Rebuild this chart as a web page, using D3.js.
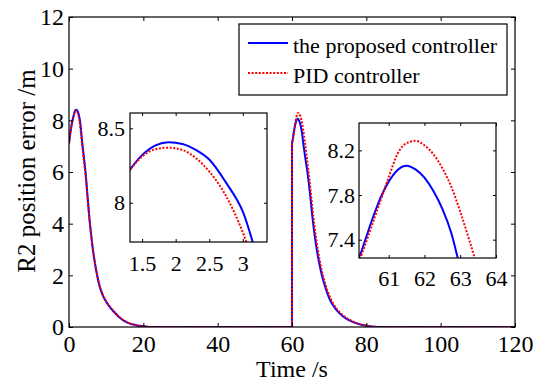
<!DOCTYPE html>
<html>
<head>
<meta charset="utf-8">
<script src="https://d3js.org/d3.v7.min.js"></script>
<style>
  html, body { margin: 0; padding: 0; background: #fff; }
  svg { display: block; }
</style>
</head>
<body>
<svg id="chart" width="536" height="385"></svg>
<script>
// Simulation time (s) and R2 position error (m) for both controllers
const time = [0, 0.4, 0.8, 1.2, 1.5, 1.7, 1.9, 2.1, 2.3, 2.5, 2.75, 3, 3.25, 3.5, 4, 4.5, 5, 5.5, 6, 6.5,
  7, 7.5, 8, 9, 10, 11, 12, 14, 16, 18, 20, 22, 30, 40, 50, 59.99, 60, 60.25, 60.5, 60.75,
  61, 61.25, 61.5, 61.75, 62, 62.25, 62.5, 62.75, 63, 63.25, 63.5, 64, 64.5, 65, 65.5, 66, 66.5, 67, 67.5, 68,
  69, 70, 71, 72, 74, 76, 78, 80, 82, 84, 90, 100, 110, 120];

const proposed = [7.10, 7.55, 7.90, 8.15, 8.32, 8.385, 8.406, 8.395, 8.355, 8.29, 8.135, 7.94, 7.58, 7.22, 6.58, 5.92, 5.05, 4.20, 3.52, 2.92,
  2.45, 2.05, 1.70, 1.25, 0.98, 0.77, 0.60, 0.32, 0.15, 0.07, 0.03, 0, 0, 0, 0, 0, 7.07, 7.305, 7.545, 7.758,
  7.92, 8.025, 8.063, 8.03, 7.955, 7.835, 7.675, 7.46, 7.15, 6.88, 6.62, 6.15, 5.60, 4.95, 4.25, 3.65, 3.15, 2.72, 2.35, 2.02,
  1.52, 1.12, 0.85, 0.65, 0.38, 0.22, 0.11, 0.05, 0.01, 0, 0, 0, 0, 0];

const pid = [7.10, 7.55, 7.90, 8.15, 8.31, 8.36, 8.37, 8.355, 8.30, 8.21, 8.045, 7.80, 7.47, 7.10, 6.45, 5.80, 4.98, 4.16, 3.50, 2.92,
  2.46, 2.07, 1.73, 1.28, 1.00, 0.79, 0.62, 0.33, 0.16, 0.08, 0.03, 0, 0, 0, 0, 0, 7.05, 7.27, 7.50, 7.73,
  7.96, 8.17, 8.265, 8.285, 8.245, 8.165, 8.04, 7.875, 7.65, 7.40, 7.13, 6.55, 5.95, 5.30, 4.60, 3.95, 3.42, 2.95, 2.55, 2.20,
  1.65, 1.23, 0.93, 0.71, 0.42, 0.24, 0.12, 0.06, 0.015, 0, 0, 0, 0, 0];

const seriesNames = ["the proposed controller", "PID controller"];

// Axis ticks and limits
const mainXTicks = [0, 20, 40, 60, 80, 100, 120];
const mainYTicks = [0, 2, 4, 6, 8, 10, 12];
const zoom1XTicks = [1.5, 2, 2.5, 3];
const zoom1YTicks = [8, 8.5];
const zoom2XTicks = [61, 62, 63, 64];
const zoom2YTicks = [7.4, 7.8, 8.2];
const zoom1XLim = [1.32, 3.36];
const zoom1YLim = [7.736, 8.603];
const zoom2XLim = [60.17, 64];
const zoom2YLim = [7.236, 8.445];

const FONT = '"Liberation Serif", "Times New Roman", Times, serif';

const svg = d3.select("#chart").attr("font-family", FONT);
const rows = time.map((t, i) => ({ t, a: proposed[i], b: pid[i] }));

const styles = [
  { key: "a", color: "#0000ff", width: 2, dash: null },
  { key: "b", color: "#ff0000", width: 2, dash: "2,1.6" }
];

function label(sel, size) {
  return sel.attr("font-family", FONT).style("font-family", FONT)
    .attr("font-size", size).style("font-size", size + "px").attr("fill", "#000");
}

function panel(opts) {
  const { x0, x1, y0, y1, xDom, yDom, xTicks, yTicks, fontSize, xPad, yPad, tick, clipId } = opts;
  const g = svg.append("g");
  const x = d3.scaleLinear().domain(xDom).range([x0, x1]);
  const y = d3.scaleLinear().domain(yDom).range([y1, y0]);

  g.append("rect").attr("x", x0).attr("y", y0).attr("width", x1 - x0).attr("height", y1 - y0)
    .attr("fill", "#fff");

  svg.append("defs").append("clipPath").attr("id", clipId)
    .append("rect").attr("x", x0).attr("y", y0 - 2).attr("width", x1 - x0).attr("height", y1 - y0 + 2);

  const lines = g.append("g").attr("clip-path", `url(#${clipId})`);
  styles.forEach(s => {
    const line = d3.line().x(d => x(d.t)).y(d => y(d[s.key])).curve(d3.curveMonotoneX);
    lines.append("path").datum(rows).attr("d", line)
      .attr("fill", "none").attr("stroke", s.color).attr("stroke-width", s.width)
      .attr("stroke-dasharray", s.dash);
  });

  const fmt = d => String(d);
  const bottom = g.append("g").attr("transform", `translate(0,${y1})`)
    .call(d3.axisBottom(x).tickValues(xTicks).tickSize(-tick).tickPadding(xPad).tickFormat(fmt));
  const top = g.append("g").attr("transform", `translate(0,${y0})`)
    .call(d3.axisTop(x).tickValues(xTicks).tickSize(-tick).tickFormat(""));
  const left = g.append("g").attr("transform", `translate(${x0},0)`)
    .call(d3.axisLeft(y).tickValues(yTicks).tickSize(-tick).tickPadding(yPad).tickFormat(fmt));
  const right = g.append("g").attr("transform", `translate(${x1},0)`)
    .call(d3.axisRight(y).tickValues(yTicks).tickSize(-tick).tickFormat(""));
  [bottom, top, left, right].forEach(a => {
    a.attr("font-family", FONT).attr("font-size", fontSize);
    a.select(".domain").remove();
    a.selectAll("line").attr("stroke", "#000").attr("stroke-width", 1);
    label(a.selectAll("text"), fontSize);
  });

  g.append("rect").attr("x", x0).attr("y", y0).attr("width", x1 - x0).attr("height", y1 - y0)
    .attr("fill", "none").attr("stroke", "#000").attr("stroke-width", 1.2);
  return { x, y, g };
}

// Main axes
panel({ x0: 69, x1: 515, y0: 17, y1: 327, xDom: [0, 120], yDom: [0, 12],
  xTicks: mainXTicks, yTicks: mainYTicks, fontSize: 24, xPad: 8, yPad: 5, tick: 4, clipId: "clipMain" });

// Axis titles
label(svg.append("text").attr("x", 292).attr("y", 377).attr("text-anchor", "middle"), 24)
  .text("Time /s");
label(svg.append("text").attr("transform", "translate(35,171) rotate(-90)").attr("text-anchor", "middle"), 25)
  .text("R2 position error /m");

// Close-up of the first peak
panel({ x0: 130, x1: 267, y0: 113, y1: 242, xDom: zoom1XLim, yDom: zoom1YLim,
  xTicks: zoom1XTicks, yTicks: zoom1YTicks, fontSize: 22, xPad: 13, yPad: 5, tick: 3, clipId: "clipZoom1" });

// Close-up of the second peak
panel({ x0: 359, x1: 496, y0: 123, y1: 258, xDom: zoom2XLim, yDom: zoom2YLim,
  xTicks: zoom2XTicks, yTicks: zoom2YTicks, fontSize: 22, xPad: 12.5, yPad: 4, tick: 3, clipId: "clipZoom2" });

// Legend
const legend = svg.append("g");
legend.append("rect").attr("x", 239).attr("y", 24).attr("width", 268).attr("height", 71)
  .attr("fill", "#fff").attr("stroke", "#000").attr("stroke-width", 1.2);
seriesNames.forEach((name, i) => {
  const s = styles[i];
  const cy = 43 + i * 30;
  legend.append("line").attr("x1", 248).attr("x2", 288).attr("y1", cy).attr("y2", cy)
    .attr("stroke", s.color).attr("stroke-width", s.width).attr("stroke-dasharray", s.dash);
  label(legend.append("text").attr("x", 293).attr("y", cy + 10), 22).text(name);
});
</script>
</body>
</html>
